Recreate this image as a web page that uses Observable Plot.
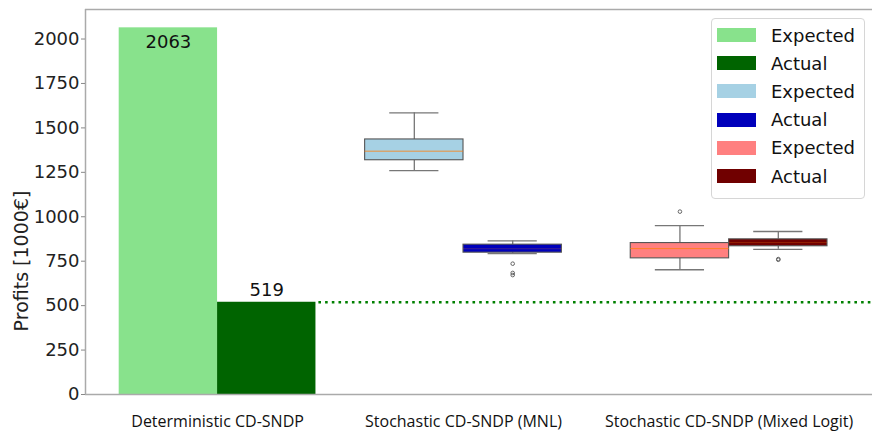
<!DOCTYPE html>
<html>
<head>
<meta charset="utf-8">
<script src="https://cdn.jsdelivr.net/npm/d3@7"></script>
<script src="https://cdn.jsdelivr.net/npm/@observablehq/plot@0.6"></script>
<style>
  body { margin: 0; background: #fff; }
  #wrap { position: relative; width: 872px; height: 435px; overflow: hidden; }
  #legend { position: absolute; left: 711px; top: 18px; width: 154px; height: 181px;
    border: 1px solid #d6d6d6; border-radius: 4px; background: rgba(255,255,255,0.85);
    font-family: "DejaVu Sans", sans-serif; font-size: 18px; color: #111; box-sizing: border-box; }
  .item { position: absolute; left: 0; height: 28px; display: flex; align-items: center; }
  .sw { width: 39px; height: 14px; margin-left: 5px; margin-right: 15px; }
</style>
</head>
<body>
<div id="wrap"></div>
<script>
// ---- data ----
const groups = ["Deterministic CD-SNDP", "Stochastic CD-SNDP (MNL)", "Stochastic CD-SNDP (Mixed Logit)"];
const groupPos = [0, 1, 2.08];

const barSeries = ["Expected", "Actual"];
const barValues = [2063, 519];
const barColors = ["#88e28c", "#006400"];

const boxSeries = ["MNL Expected", "MNL Actual", "Mixed Logit Expected", "Mixed Logit Actual"];
const boxGroup = [1, 1, 2, 2];
const boxSide = [-1, 1, -1, 1];
const whiskerLow = [1260, 793, 702, 817];
const q1 = [1318, 798, 766, 834];
const median = [1369, 820, 821, 855];
const q3 = [1435, 843, 852, 873];
const whiskerHigh = [1585, 864, 950, 917];
const outliers = [[], [736, 684, 672], [1029], [762, 758]];
const boxColors = ["#a6d1e4", "#0000bb", "#ff8080", "#700000"];

const legendLabels = ["Expected", "Actual", "Expected", "Actual", "Expected", "Actual"];
const legendColors = ["#88e28c", "#006400", "#a6d1e4", "#0000bb", "#ff8080", "#700000"];

const yTicks = [0, 250, 500, 750, 1000, 1250, 1500, 1750, 2000];
const baselineValue = barValues[1];

// ---- derived tables ----
const half = 0.2;
const bars = barSeries.map((s, i) => ({s, v: barValues[i], x: groupPos[0] + (i === 0 ? -half : half), color: barColors[i]}));
const boxes = boxSeries.map((s, i) => ({
  s, x: groupPos[boxGroup[i]] + boxSide[i] * half,
  lo: whiskerLow[i], q1: q1[i], med: median[i], q3: q3[i], hi: whiskerHigh[i],
  color: boxColors[i], dark: boxSide[i] > 0
}));
const outPts = boxes.flatMap((b, i) => outliers[i].map(v => ({x: b.x, v})));

const yMax = barValues[0] * 1.05;
const xDomain = [-0.537, 2.663];

const chart = Plot.plot({
  width: 872, height: 435,
  marginLeft: 85, marginRight: 0, marginTop: 9, marginBottom: 41,
  x: {domain: xDomain},
  y: {domain: [0, yMax]},
  color: {type: "identity"},
  style: {fontFamily: "DejaVu Sans", background: "white"},
  marks: [
    Plot.rect(bars, {x1: d => d.x - half, x2: d => d.x + half, y1: 0, y2: "v", fill: "color"}),
    Plot.text(bars.slice(0, 1), {x: "x", y: "v", text: d => String(d.v), dy: 14, fontSize: 18, fill: "#111"}),
    Plot.text(bars.slice(1), {x: "x", y: "v", text: d => String(d.v), dy: -12, fontSize: 18, fill: "#111"}),
    Plot.ruleY([baselineValue], {x1: groupPos[0] + 2 * half + 0.012, x2: xDomain[1], stroke: "#008000", strokeWidth: 2.6, strokeDasharray: "2.6,4.1"}),
    // whiskers
    Plot.ruleX(boxes, {x: "x", y1: "lo", y2: "q1", stroke: "#777", strokeWidth: 1.3}),
    Plot.ruleX(boxes, {x: "x", y1: "q3", y2: "hi", stroke: "#777", strokeWidth: 1.3}),
    Plot.ruleY(boxes, {y: "lo", x1: d => d.x - half / 2, x2: d => d.x + half / 2, stroke: "#777", strokeWidth: 1.3}),
    Plot.ruleY(boxes, {y: "hi", x1: d => d.x - half / 2, x2: d => d.x + half / 2, stroke: "#777", strokeWidth: 1.3}),
    // boxes
    Plot.rect(boxes, {x1: d => d.x - half, x2: d => d.x + half, y1: "q1", y2: "q3", fill: "color", stroke: "#555", strokeWidth: 1.1}),
    Plot.ruleY(boxes, {y: "med", x1: d => d.x - half, x2: d => d.x + half, stroke: "#ff7f0e", strokeOpacity: d => d.dark ? 0.25 : 0.8, strokeWidth: 1}),
    Plot.dot(outPts, {x: "x", y: "v", r: 1.8, stroke: "#666", fill: "none", strokeWidth: 1}),
    // spines
    Plot.ruleX([xDomain[0]], {stroke: "#aaa", strokeWidth: 1.5}),
    Plot.ruleY([0], {stroke: "#aaa", strokeWidth: 1.5}),
    Plot.ruleY([yMax], {stroke: "#aaa", strokeWidth: 1.5}),
    Plot.axisY({ticks: yTicks, tickFormat: d => String(d), tickSize: 4, tickPadding: 2, fontSize: 18, fontFamily: "DejaVu Sans", label: null, color: "#222", stroke: "#888"}),
    Plot.axisX({ticks: groupPos, tickFormat: d => groups[groupPos.indexOf(d)], tickSize: 0, tickPadding: 21, fontSize: 16, fontFamily: "Open Sans", label: null, color: "#111"})
  ]
});

const wrap = document.getElementById("wrap");
wrap.appendChild(chart);
d3.select(chart).append("text")
  .attr("transform", "translate(21,261) rotate(-90)")
  .attr("text-anchor", "middle").attr("dominant-baseline", "central")
  .style("font-family", "'DejaVu Sans'").style("font-size", "19px").attr("fill", "#222")
  .text("Profits [1000€]");

const legend = document.createElement("div");
legend.id = "legend";
legendLabels.forEach((lab, i) => {
  const it = document.createElement("div");
  it.className = "item";
  it.style.top = (2 + i * 28.2) + "px";
  const sw = document.createElement("div");
  sw.className = "sw";
  sw.style.background = legendColors[i];
  it.appendChild(sw);
  const t = document.createElement("span");
  t.textContent = lab;
  it.appendChild(t);
  legend.appendChild(it);
});
wrap.appendChild(legend);
</script>
</body>
</html>
